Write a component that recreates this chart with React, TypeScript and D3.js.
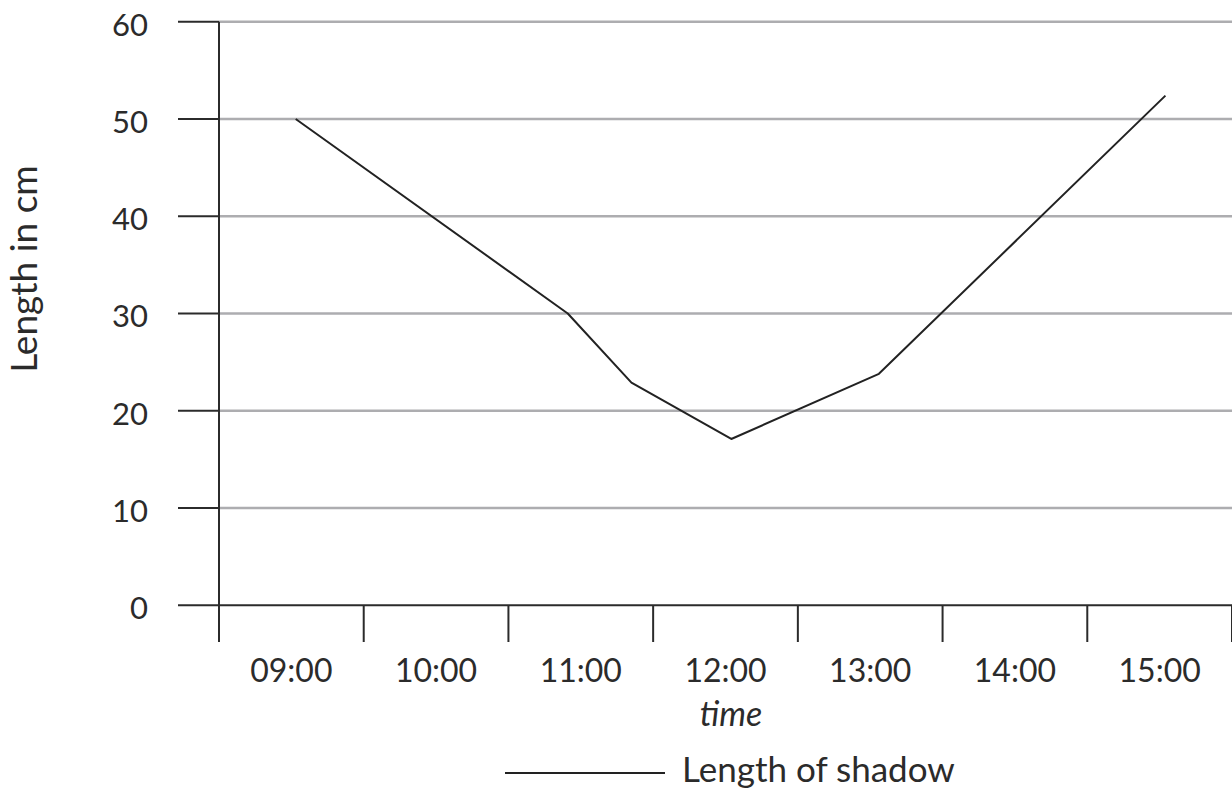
import React from "react";
import * as d3 from "d3";

const timeLabels = ["09:00", "10:00", "11:00", "12:00", "13:00", "14:00", "15:00"];
const yTicks = [0, 10, 20, 30, 40, 50, 60];
// hours since midnight (decimal) of each measurement
const times = [9.03, 10.91, 11.35, 12.04, 13.06, 15.04];
const shadowLength = [50, 30, 22.9, 17.1, 23.8, 52.4];
const seriesName = "Length of shadow";

export default function App() {
  const W = 1232, H = 791;
  const left = 219, right = 1232, top = 21.7, bottom = 605.3;
  const x = d3.scaleLinear().domain([8.5, 15.5]).range([left, right]);
  const y = d3.scaleLinear().domain([0, 60]).range([bottom, top]);
  const band = d3.scaleBand().domain(timeLabels).range([left, right]);
  const line = d3.line<number>().x((_, i) => x(times[i])).y((d) => y(d));
  const font = "Lato, 'Open Sans', sans-serif";
  const edges = timeLabels.map((t) => band(t) as number).concat([right]);

  return (
    <svg width={W} height={H} style={{ position: "absolute", left: 0, top: 0, background: "#fff" }} fontFamily={font}>
      {yTicks.filter((t) => t > 0).map((t) => (
        <line key={"g" + t} x1={left} x2={right} y1={y(t)} y2={y(t)} stroke="#adadb0" strokeWidth={2.5} />
      ))}
      {yTicks.map((t) => (
        <g key={"y" + t}>
          <line x1={178} x2={left} y1={y(t)} y2={y(t)} stroke="#2b2b2b" strokeWidth={2} />
          <text x={148} y={y(t)} dy="0.45em" textAnchor="end" fontSize={31} fill="#2b2b2b">{t}</text>
        </g>
      ))}
      <line x1={left} x2={left} y1={top} y2={642} stroke="#2b2b2b" strokeWidth={2} />
      <line x1={left} x2={right} y1={bottom} y2={bottom} stroke="#2b2b2b" strokeWidth={2} />
      {edges.map((e, i) => (
        <line key={"xt" + i} x1={e} x2={e} y1={bottom} y2={642} stroke="#2b2b2b" strokeWidth={2} />
      ))}
      {timeLabels.map((t) => (
        <text key={t} x={(band(t) as number) + band.bandwidth() / 2} y={681.5} textAnchor="middle" fontSize={32} fill="#2b2b2b">{t}</text>
      ))}
      <text x={731} y={726} textAnchor="middle" fontSize={34} fontStyle="italic" fill="#2b2b2b">time</text>
      <text transform={`translate(37,${269}) rotate(-90)`} textAnchor="middle" fontSize={37} fill="#2b2b2b">Length in cm</text>
      <path d={line(shadowLength) || ""} fill="none" stroke="#222" strokeWidth={2} strokeLinejoin="round" />
      <line x1={505} x2={665} y1={773} y2={773} stroke="#222" strokeWidth={2} />
      <text x={682} y={782} fontSize={35} fill="#2b2b2b">{seriesName}</text>
    </svg>
  );
}
